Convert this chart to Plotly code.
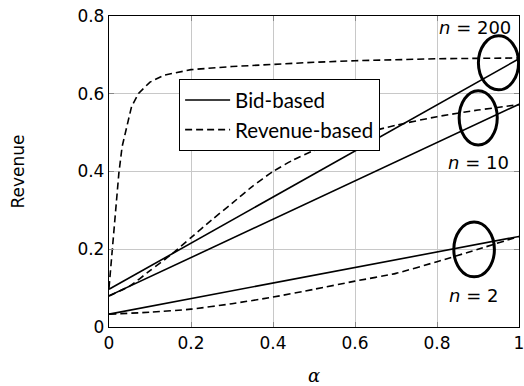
import plotly.graph_objects as go

# ---- data ----
alpha_line = [0.0, 1.0]
bid_n200 = [0.097, 0.690]
bid_n10 = [0.080, 0.573]
bid_n2 = [0.033, 0.233]

rev_n200_x = [0, 0.0025, 0.005, 0.008, 0.013, 0.019, 0.024, 0.032, 0.043, 0.055, 0.072,
              0.1, 0.135, 0.2, 0.3, 0.4, 0.5, 0.6, 0.7, 0.8, 0.9, 1.0]
rev_n200_y = [0.10, 0.13, 0.155, 0.198, 0.258, 0.327, 0.395, 0.464, 0.515, 0.567, 0.601,
              0.630, 0.648, 0.662, 0.670, 0.676, 0.681, 0.685, 0.688, 0.690, 0.691, 0.692]

rev_n10_x = [0, 0.05, 0.1, 0.15, 0.2, 0.25, 0.3, 0.35, 0.4, 0.45, 0.5, 0.6, 0.7, 0.8, 0.9, 1.0]
rev_n10_y = [0.080, 0.105, 0.145, 0.185, 0.230, 0.275, 0.318, 0.362, 0.400, 0.430, 0.454,
             0.492, 0.519, 0.541, 0.558, 0.572]

rev_n2_x = [0, 0.1, 0.2, 0.3, 0.4, 0.5, 0.6, 0.7, 0.8, 0.9, 1.0]
rev_n2_y = [0.033, 0.038, 0.046, 0.060, 0.077, 0.097, 0.118, 0.138, 0.168, 0.200, 0.233]

x_ticks = [0, 0.2, 0.4, 0.6, 0.8, 1]
x_tick_labels = ["0", "0.2", "0.4", "0.6", "0.8", "1"]
y_ticks = [0, 0.2, 0.4, 0.6, 0.8]
y_tick_labels = ["0", "0.2", "0.4", "0.6", "0.8"]

# labels: (text, x, y)
n_labels = [("<i>n</i> = 200", 0.893, 0.770),
            ("<i>n</i> = 10", 0.90, 0.424),
            ("<i>n</i> = 2", 0.89, 0.082)]
# ellipses: (x0, x1, y0, y1)
ellipses = [(0.901, 0.999, 0.610, 0.749),
            (0.854, 0.947, 0.468, 0.608),
            (0.841, 0.940, 0.129, 0.270)]

LW = 1.6
DASH = "7px,4px"

fig = go.Figure()
fig.add_trace(go.Scatter(x=alpha_line, y=bid_n200, mode="lines", name="Bid-based",
                         line=dict(color="black", width=LW), legendgroup="bid", showlegend=True))
fig.add_trace(go.Scatter(x=rev_n200_x, y=rev_n200_y, mode="lines", name="Revenue-based",
                         line=dict(color="black", width=LW, dash=DASH), legendgroup="rev", showlegend=True))
fig.add_trace(go.Scatter(x=alpha_line, y=bid_n10, mode="lines", name="Bid-based",
                         line=dict(color="black", width=LW), legendgroup="bid", showlegend=False))
fig.add_trace(go.Scatter(x=rev_n10_x, y=rev_n10_y, mode="lines", name="Revenue-based",
                         line=dict(color="black", width=LW, dash=DASH, shape="spline", smoothing=0.6),
                         legendgroup="rev", showlegend=False))
fig.add_trace(go.Scatter(x=alpha_line, y=bid_n2, mode="lines", name="Bid-based",
                         line=dict(color="black", width=LW), legendgroup="bid", showlegend=False))
fig.add_trace(go.Scatter(x=rev_n2_x, y=rev_n2_y, mode="lines", name="Revenue-based",
                         line=dict(color="black", width=LW, dash=DASH, shape="spline", smoothing=0.6),
                         legendgroup="rev", showlegend=False))

for (x0, x1, y0, y1) in ellipses:
    fig.add_shape(type="circle", xref="x", yref="y", x0=x0, x1=x1, y0=y0, y1=y1,
                  line=dict(color="black", width=3))

for (t, x, y) in n_labels:
    fig.add_annotation(x=x, y=y, xref="x", yref="y", text=t, showarrow=False,
                       font=dict(family="DejaVu Sans", size=18, color="black"))

axis_common = dict(
    showgrid=True, gridcolor="#c8c8c8", gridwidth=1,
    showline=True, linecolor="black", linewidth=1.3, mirror="ticks",
    ticks="inside", ticklen=5, tickcolor="#888888", tickwidth=1,
    zeroline=False, automargin=False, ticklabeloverflow="allow",
    tickfont=dict(family="DejaVu Sans", size=17, color="black"),
)

fig.update_xaxes(range=[0, 1], tickvals=x_ticks, ticktext=x_tick_labels,
                 title=dict(text="<i>α</i>", font=dict(family="DejaVu Serif", size=18, color="black"),
                            standoff=20),
                 **axis_common)
fig.update_yaxes(range=[0, 0.8], tickvals=y_ticks, ticktext=y_tick_labels,
                 title=dict(text="Revenue", font=dict(family="DejaVu Sans", size=17, color="black"),
                            standoff=48),
                 **axis_common)

fig.update_layout(
    width=524, height=386,
    margin=dict(l=109, r=5, t=16, b=59),
    plot_bgcolor="white", paper_bgcolor="white",
    legend=dict(x=0.171, y=0.797, xanchor="left", yanchor="top",
                bgcolor="white", bordercolor="black", borderwidth=1,
                font=dict(family="Lato", size=20.5, color="black"),
                itemwidth=45, tracegroupgap=0),
)

fig.write_html("out.html", config={"displayModeBar": False},
               post_script="document.body.style.margin='0';")
